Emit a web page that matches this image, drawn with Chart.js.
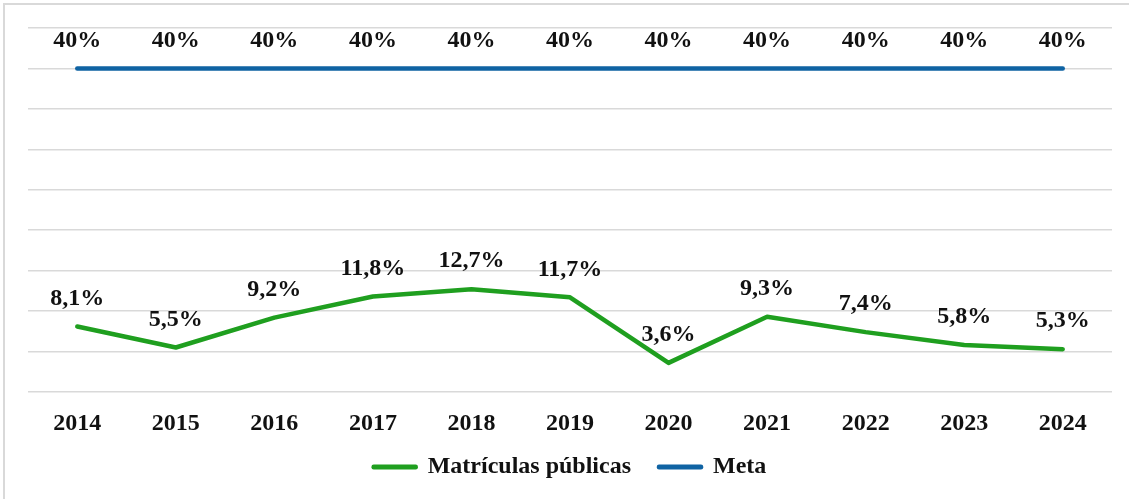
<!DOCTYPE html>
<html>
<head>
<meta charset="utf-8">
<script src="https://cdn.jsdelivr.net/npm/chart.js@4.4.1/dist/chart.umd.min.js"></script>
<style>
  html, body { margin: 0; padding: 0; background: #fff; }
  #wrap { position: relative; width: 1129px; height: 499px; }
</style>
</head>
<body>
<div id="wrap"><canvas id="c" width="1129" height="499"></canvas></div>
<script>
const years = ['2014','2015','2016','2017','2018','2019','2020','2021','2022','2023','2024'];
const matriculasPublicas = [8.1, 5.5, 9.2, 11.8, 12.7, 11.7, 3.6, 9.3, 7.4, 5.8, 5.3];
const meta = [40, 40, 40, 40, 40, 40, 40, 40, 40, 40, 40];
const seriesNames = ['Matrículas públicas', 'Meta'];

const FONT = "'Liberation Serif', 'Times New Roman', serif";
const GREEN = '#1f9f1f';
const BLUE = '#0f63a3';

const fmt = v => (Number.isInteger(v) ? String(v) : v.toFixed(1).replace('.', ',')) + '%';

const frame = {
  id: 'frame',
  beforeDraw(chart) {
    const ctx = chart.ctx;
    ctx.save();
    ctx.fillStyle = '#fff';
    ctx.fillRect(0, 0, chart.width, chart.height);
    ctx.strokeStyle = '#d9d9d9';
    ctx.lineWidth = 2;
    ctx.beginPath();
    ctx.moveTo(4, chart.height);
    ctx.lineTo(4, 4);
    ctx.lineTo(chart.width, 4);
    ctx.stroke();
    ctx.restore();
  }
};

const valueLabels = {
  id: 'valueLabels',
  afterDatasetsDraw(chart) {
    const ctx = chart.ctx;
    ctx.save();
    ctx.font = 'bold 24px ' + FONT;
    ctx.fillStyle = '#111';
    ctx.textAlign = 'center';
    ctx.textBaseline = 'middle';
    chart.data.datasets.forEach((ds, i) => {
      const m = chart.getDatasetMeta(i);
      m.data.forEach((pt, j) => {
        ctx.fillText(fmt(ds.data[j]), pt.x, pt.y - 28);
      });
    });
    ctx.restore();
  }
};

new Chart(document.getElementById('c'), {
  type: 'line',
  data: {
    labels: years,
    datasets: [
      {
        label: seriesNames[0],
        data: matriculasPublicas,
        borderColor: GREEN,
        backgroundColor: GREEN,
        borderWidth: 4.5,
        tension: 0,
        pointRadius: 0,
        borderCapStyle: 'round',
        borderJoinStyle: 'round'
      },
      {
        label: seriesNames[1],
        data: meta,
        borderColor: BLUE,
        backgroundColor: BLUE,
        borderWidth: 4.5,
        tension: 0,
        pointRadius: 0,
        borderCapStyle: 'round',
        borderJoinStyle: 'round'
      }
    ]
  },
  options: {
    responsive: false,
    animation: false,
    devicePixelRatio: 1,
    layout: { padding: { left: 28, right: 17, top: 28, bottom: 10 } },
    plugins: {
      tooltip: { enabled: false },
      legend: {
        position: 'bottom',
        labels: {
          boxWidth: 42,
          boxHeight: 0.5,
          padding: 28,
          color: '#111',
          font: { family: FONT, size: 24, weight: 'bold' }
        }
      }
    },
    scales: {
      x: {
        type: 'category',
        offset: true,
        grid: { display: false, drawTicks: false },
        border: { display: false },
        ticks: {
          color: '#111',
          mirror: true,
          padding: -46,
          font: { family: FONT, size: 24, weight: 'bold' }
        },
        afterFit(scale) {
          scale.height = 35;
          scale.paddingLeft = 0;
          scale.paddingRight = 0;
        }
      },
      y: {
        min: 0,
        max: 45,
        ticks: { stepSize: 5, display: false },
        grid: { color: '#d9d9d9', lineWidth: 1.5, drawTicks: false },
        border: { display: false },
        afterFit(scale) { scale.width = 0; }
      }
    }
  },
  plugins: [frame, valueLabels]
});
</script>
</body>
</html>
